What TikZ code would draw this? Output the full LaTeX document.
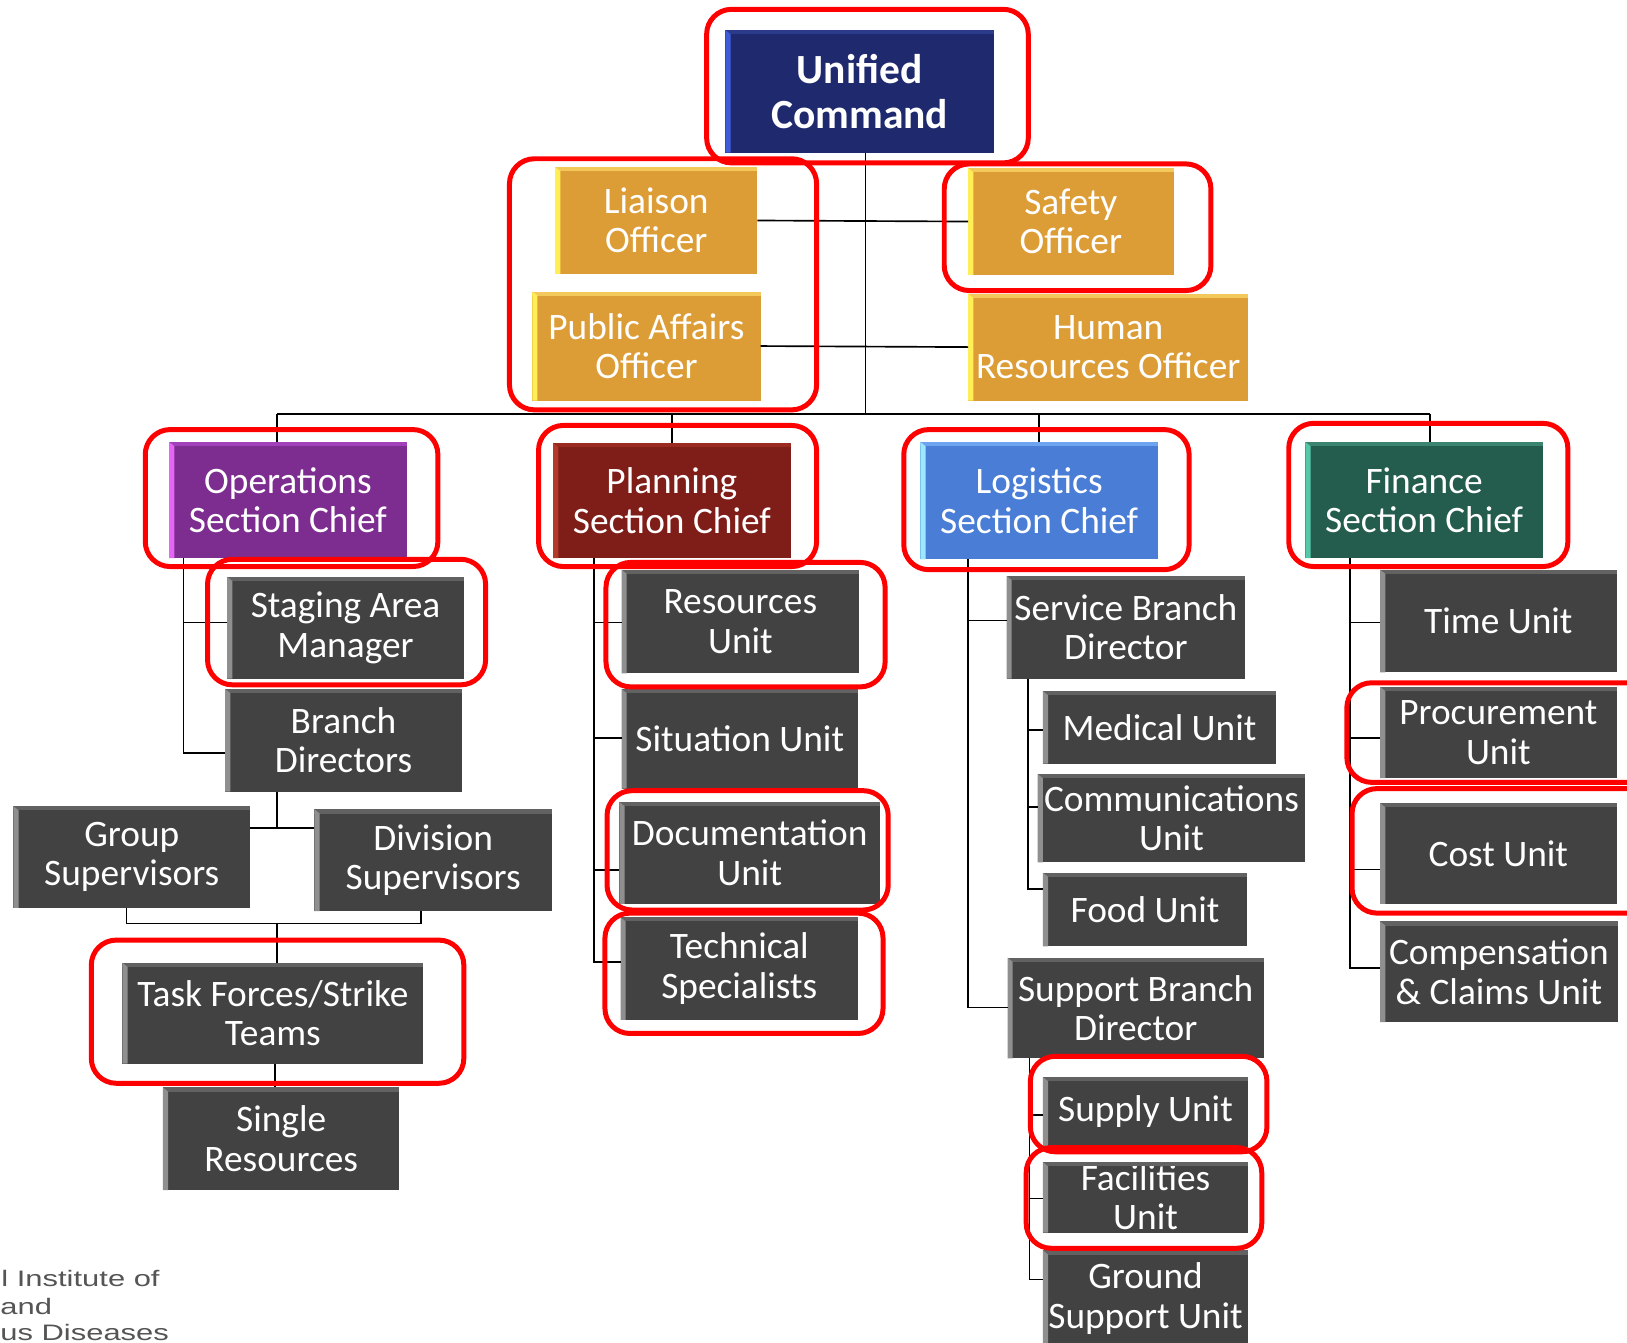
\documentclass[tikz,border=0pt]{standalone}
\usepackage{fontspec}
\setmainfont{Carlito}
\newfontfamily\logofont{Liberation Sans}
\usetikzlibrary{calc}
\pgfdeclarelayer{bg}\pgfdeclarelayer{fg}
\pgfsetlayers{bg,main,fg}

\definecolor{navy-f}{HTML}{1F2A6E}\definecolor{navy-s}{HTML}{3E5BD8}\definecolor{navy-t}{HTML}{2C3A8C}
\definecolor{orng-f}{HTML}{DD9D36}\definecolor{orng-s}{HTML}{FFEE55}\definecolor{orng-t}{HTML}{F2C95A}
\definecolor{purp-f}{HTML}{7D2D8F}\definecolor{purp-s}{HTML}{E565F5}\definecolor{purp-t}{HTML}{A23FBA}
\definecolor{dred-f}{HTML}{7F1E18}\definecolor{dred-s}{HTML}{B5392B}\definecolor{dred-t}{HTML}{9A2A20}
\definecolor{blue-f}{HTML}{4A7ED6}\definecolor{blue-s}{HTML}{9BE8FF}\definecolor{blue-t}{HTML}{6EA3F0}
\definecolor{gren-f}{HTML}{245C4D}\definecolor{gren-s}{HTML}{55C8A8}\definecolor{gren-t}{HTML}{3A8470}
\definecolor{gray-f}{HTML}{424242}\definecolor{gray-s}{HTML}{8F8F8F}\definecolor{gray-t}{HTML}{626262}
\definecolor{glowblue}{HTML}{DCE6F7}
\definecolor{glowor}{HTML}{FCEBCB}
\definecolor{glowpk}{HTML}{F3DDF3}
\definecolor{glowpe}{HTML}{FBE6DA}
\definecolor{glowgr}{HTML}{E6F2E0}
\definecolor{logogray}{HTML}{555555}

\tikzset{
  boxst/.style={rectangle, inner sep=0pt, outer sep=0pt, align=center, text=white,
    font=\fontsize{18}{19}\selectfont},
  conn/.style={draw=black, line width=0.8pt},
  hl/.style={draw=red, line width=2.4pt, rounded corners=12pt},
}

% #1 opts, #2 name, #3 x1, #4 y1, #5 x2, #6 y2, #7 scheme, #8 text
\newcommand\mkbox[8][]{%
  \pgfmathsetmacro\bcx{(#3+#5)/2}%
  \pgfmathsetmacro\bcy{(#4+#6)/2}%
  \pgfmathsetmacro\bw{(#5-#3)/2}%
  \pgfmathsetmacro\bh{(#6-#4)/2}%
  \node[boxst, fill=#7-f, minimum width=\bw pt, minimum height=\bh pt, #1] (#2) at (\bcx,\bcy) {#8};
  \fill[#7-t] (#2.north west) -- (#2.north east) -- ([yshift=-2pt]#2.north east) -- ([yshift=-2pt]#2.north west) -- cycle;
  \fill[#7-s] (#2.north west) -- ([xshift=2.5pt,yshift=-2pt]#2.north west) -- ([xshift=2.5pt]#2.south west) -- (#2.south west) -- cycle;
}
\newcommand\glow[2]{%
  \begin{pgfonlayer}{bg}
    \fill[#2, opacity=0.35, rounded corners=10pt] ([xshift=-10pt,yshift=10pt]#1.north west) rectangle ([xshift=10pt,yshift=-10pt]#1.south east);
    \fill[#2, opacity=0.5, rounded corners=6pt] ([xshift=-5pt,yshift=5pt]#1.north west) rectangle ([xshift=5pt,yshift=-5pt]#1.south east);
  \end{pgfonlayer}%
}

\begin{document}
\begin{tikzpicture}[x=0.5pt, y=-0.5pt]
\useasboundingbox[fill=white] (0,0) rectangle (1568,1294);

% ---- top
\mkbox[font=\bfseries\fontsize{20}{21.5}\selectfont]{uc}{699}{29}{958}{147}{navy}{Unified\\Command}
\glow{uc}{glowblue}
\mkbox{lia}{535}{161}{730}{264}{orng}{Liaison\\Officer}
\mkbox{pa}{513}{281}{733}{386}{orng}{Public Affairs\\Officer}
\mkbox{saf}{933}{162}{1131}{265}{orng}{Safety\\Officer}
\mkbox{hr}{933}{283}{1203}{386}{orng}{Human\\Resources Officer}
\glow{lia}{glowor}\glow{pa}{glowor}\glow{saf}{glowor}\glow{hr}{glowor}

% ---- section chiefs
\mkbox{ops}{163}{426}{392}{538}{purp}{Operations\\Section Chief}
\mkbox{pl}{533}{427}{762}{538}{dred}{Planning\\Section Chief}
\mkbox{lg}{887}{426}{1116}{539}{blue}{Logistics\\Section Chief}
\mkbox{fin}{1258}{426}{1487}{538}{gren}{Finance\\Section Chief}
\glow{ops}{glowpk}\glow{pl}{glowpe}\glow{lg}{glowblue}\glow{fin}{glowgr}

% ---- operations
\mkbox{sam}{219}{556}{447}{654}{gray}{Staging Area\\Manager}
\mkbox{bd}{217}{664}{445}{763}{gray}{Branch\\Directors}
\mkbox{gs}{13}{777}{241}{875}{gray}{Group\\Supervisors}
\mkbox{ds}{303}{780}{532}{878}{gray}{Division\\Supervisors}
\mkbox{tf}{118}{928}{408}{1025}{gray}{Task Forces/Strike\\Teams}
\mkbox{sr}{157}{1048}{385}{1147}{gray}{Single\\Resources}

% ---- planning
\mkbox{ru}{599}{549}{828}{649}{gray}{Resources\\Unit}
\mkbox{su}{599}{664}{827}{760}{gray}{Situation Unit}
\mkbox{du}{597}{773}{848}{871}{gray}{Documentation\\Unit}
\mkbox{ts}{598}{884}{827}{983}{gray}{Technical\\Specialists}

% ---- logistics
\mkbox{sbd}{970}{555}{1200}{654}{gray}{Service Branch\\Director}
\mkbox{med}{1005}{666}{1230}{736}{gray}{Medical Unit}
\mkbox{com}{1000}{746}{1258}{831}{gray}{Communications\\Unit}
\mkbox{food}{1005}{841}{1202}{912}{gray}{Food Unit}
\mkbox{spbd}{971}{923}{1218}{1020}{gray}{Support Branch\\Director}
\mkbox{sup}{1005}{1038}{1203}{1105}{gray}{Supply Unit}
\mkbox{fac}{1005}{1120}{1203}{1188}{gray}{Facilities\\Unit}
\mkbox{gsu}{1005}{1205}{1203}{1298}{gray}{Ground\\Support Unit}

% ---- finance
\mkbox{tu}{1330}{549}{1558}{648}{gray}{Time Unit}
\mkbox{pu}{1330}{662}{1558}{750}{gray}{Procurement\\Unit}
\mkbox{cu}{1330}{774}{1558}{871}{gray}{Cost Unit}
\mkbox{ccu}{1330}{888}{1559}{985}{gray}{Compensation\\\& Claims Unit}

% ---- connectors: top
\coordinate (tr) at (834,399);
\coordinate (bL) at (267,399);
\coordinate (bR) at (1378,399);
\draw[conn] (tr |- uc.south) -- (tr);
\draw[conn] (lia.east) -- (saf.west);
\draw[conn] (pa.east) -- (hr.west);
\draw[conn] (bL) -- (bR);
\draw[conn] (bL) -- (bL |- ops.north);
\draw[conn] (pl.north |- bL) -- (pl.north);
\draw[conn] (lg.north |- bL) -- (lg.north);
\draw[conn] (bR) -- (bR |- fin.north);

% ---- operations connectors
\coordinate (opsv) at (177,726);
\coordinate (ops1) at (177,600);
\draw[conn] (opsv |- ops.south) -- (opsv) -- (opsv -| bd.west);
\draw[conn] (ops1) -- (ops1 -| sam.west);
\coordinate (bdj) at (267,798);
\draw[conn] (bdj |- bd.south) -- (bdj);
\draw[conn] (gs.east |- bdj) -- (ds.west |- bdj);
\coordinate (gsb) at (122,890);
\coordinate (dsb) at (406,890);
\coordinate (tfj) at (267,890);
\draw[conn] (gsb |- gs.south) -- (gsb) -- (dsb) -- (dsb |- ds.south);
\draw[conn] (tfj) -- (tfj |- tf.north);
\coordinate (tfs) at (265,1036);
\draw[conn] (tfs |- tf.south) -- (tfs |- sr.north);

% ---- planning connectors
\coordinate (plv) at (572.5,927);
\coordinate (pl1) at (572.5,600);
\coordinate (pl2) at (572.5,711);
\coordinate (pl3) at (572.5,838.5);
\draw[conn] (plv |- pl.south) -- (plv) -- (plv -| ts.west);
\draw[conn] (pl1) -- (pl1 -| ru.west);
\draw[conn] (pl2) -- (pl2 -| su.west);
\draw[conn] (pl3) -- (pl3 -| du.west);

% ---- logistics connectors
\coordinate (lgv) at (933,971);
\coordinate (lg1) at (933,598);
\draw[conn] (lgv |- lg.south) -- (lgv) -- (lgv -| spbd.west);
\draw[conn] (lg1) -- (lg1 -| sbd.west);
\coordinate (sv) at (991,857);
\coordinate (sv1) at (991,703.6);
\coordinate (sv2) at (991,778);
\draw[conn] (sv |- sbd.south) -- (sv) -- (sv -| food.west);
\draw[conn] (sv1) -- (sv1 -| med.west);
\draw[conn] (sv2) -- (sv2 -| com.west);
\coordinate (spv) at (992,1233);
\coordinate (spv1) at (992,1074.6);
\coordinate (spv2) at (992,1155);
\draw[conn] (spv |- spbd.south) -- (spv) -- (spv -| gsu.west);
\draw[conn] (spv1) -- (spv1 -| sup.west);
\draw[conn] (spv2) -- (spv2 -| fac.west);

% ---- finance connectors
\coordinate (fv) at (1301,933);
\coordinate (fv1) at (1301,600);
\coordinate (fv2) at (1301,711);
\coordinate (fv3) at (1301,838);
\draw[conn] (fv |- fin.south) -- (fv) -- (fv -| ccu.west);
\draw[conn] (fv1) -- (fv1 -| tu.west);
\draw[conn] (fv2) -- (fv2 -| pu.west);
\draw[conn] (fv3) -- (fv3 -| cu.west);

% ---- red highlights
\begin{pgfonlayer}{fg}
\draw[hl] (681,9) rectangle (991,157);
\draw[hl] (491,153) rectangle (787,395);
\draw[hl] (910,158) rectangle (1167,280);
\draw[hl] (140,414) rectangle (422,546);
\draw[hl] (519,410) rectangle (787,546);
\draw[hl] (871,414) rectangle (1146,549);
\draw[hl] (1242,408) rectangle (1511,546);
\draw[hl] (200,539) rectangle (468,660);
\draw[hl] (584,542) rectangle (853,662);
\draw[hl] (585,762) rectangle (856,877);
\draw[hl] (583,880) rectangle (851,996);
\draw[hl] (88,906) rectangle (447,1044);
\draw[hl] (993,1018) rectangle (1221,1110);
\draw[hl] (989,1106) rectangle (1216,1203);
\draw[hl] (1298,658) rectangle (1595,754);
\draw[hl] (1303,760) rectangle (1595,880);
\end{pgfonlayer}

% ---- cut-off logo text
\tikzset{logost/.style={anchor=base west, inner sep=0pt, text=logogray, font=\logofont\fontsize{10.8}{12}\selectfont}}
\node[logost] (logo1) at (1,1240) {\scalebox{1.38}[1]{l Institute of}};
\node[logost] (logo2) at (0,1266.5) {\scalebox{1.38}[1]{and}};
\node[logost] (logo3) at (0,1292) {\scalebox{1.38}[1]{us Diseases}};
\end{tikzpicture}
\end{document}
